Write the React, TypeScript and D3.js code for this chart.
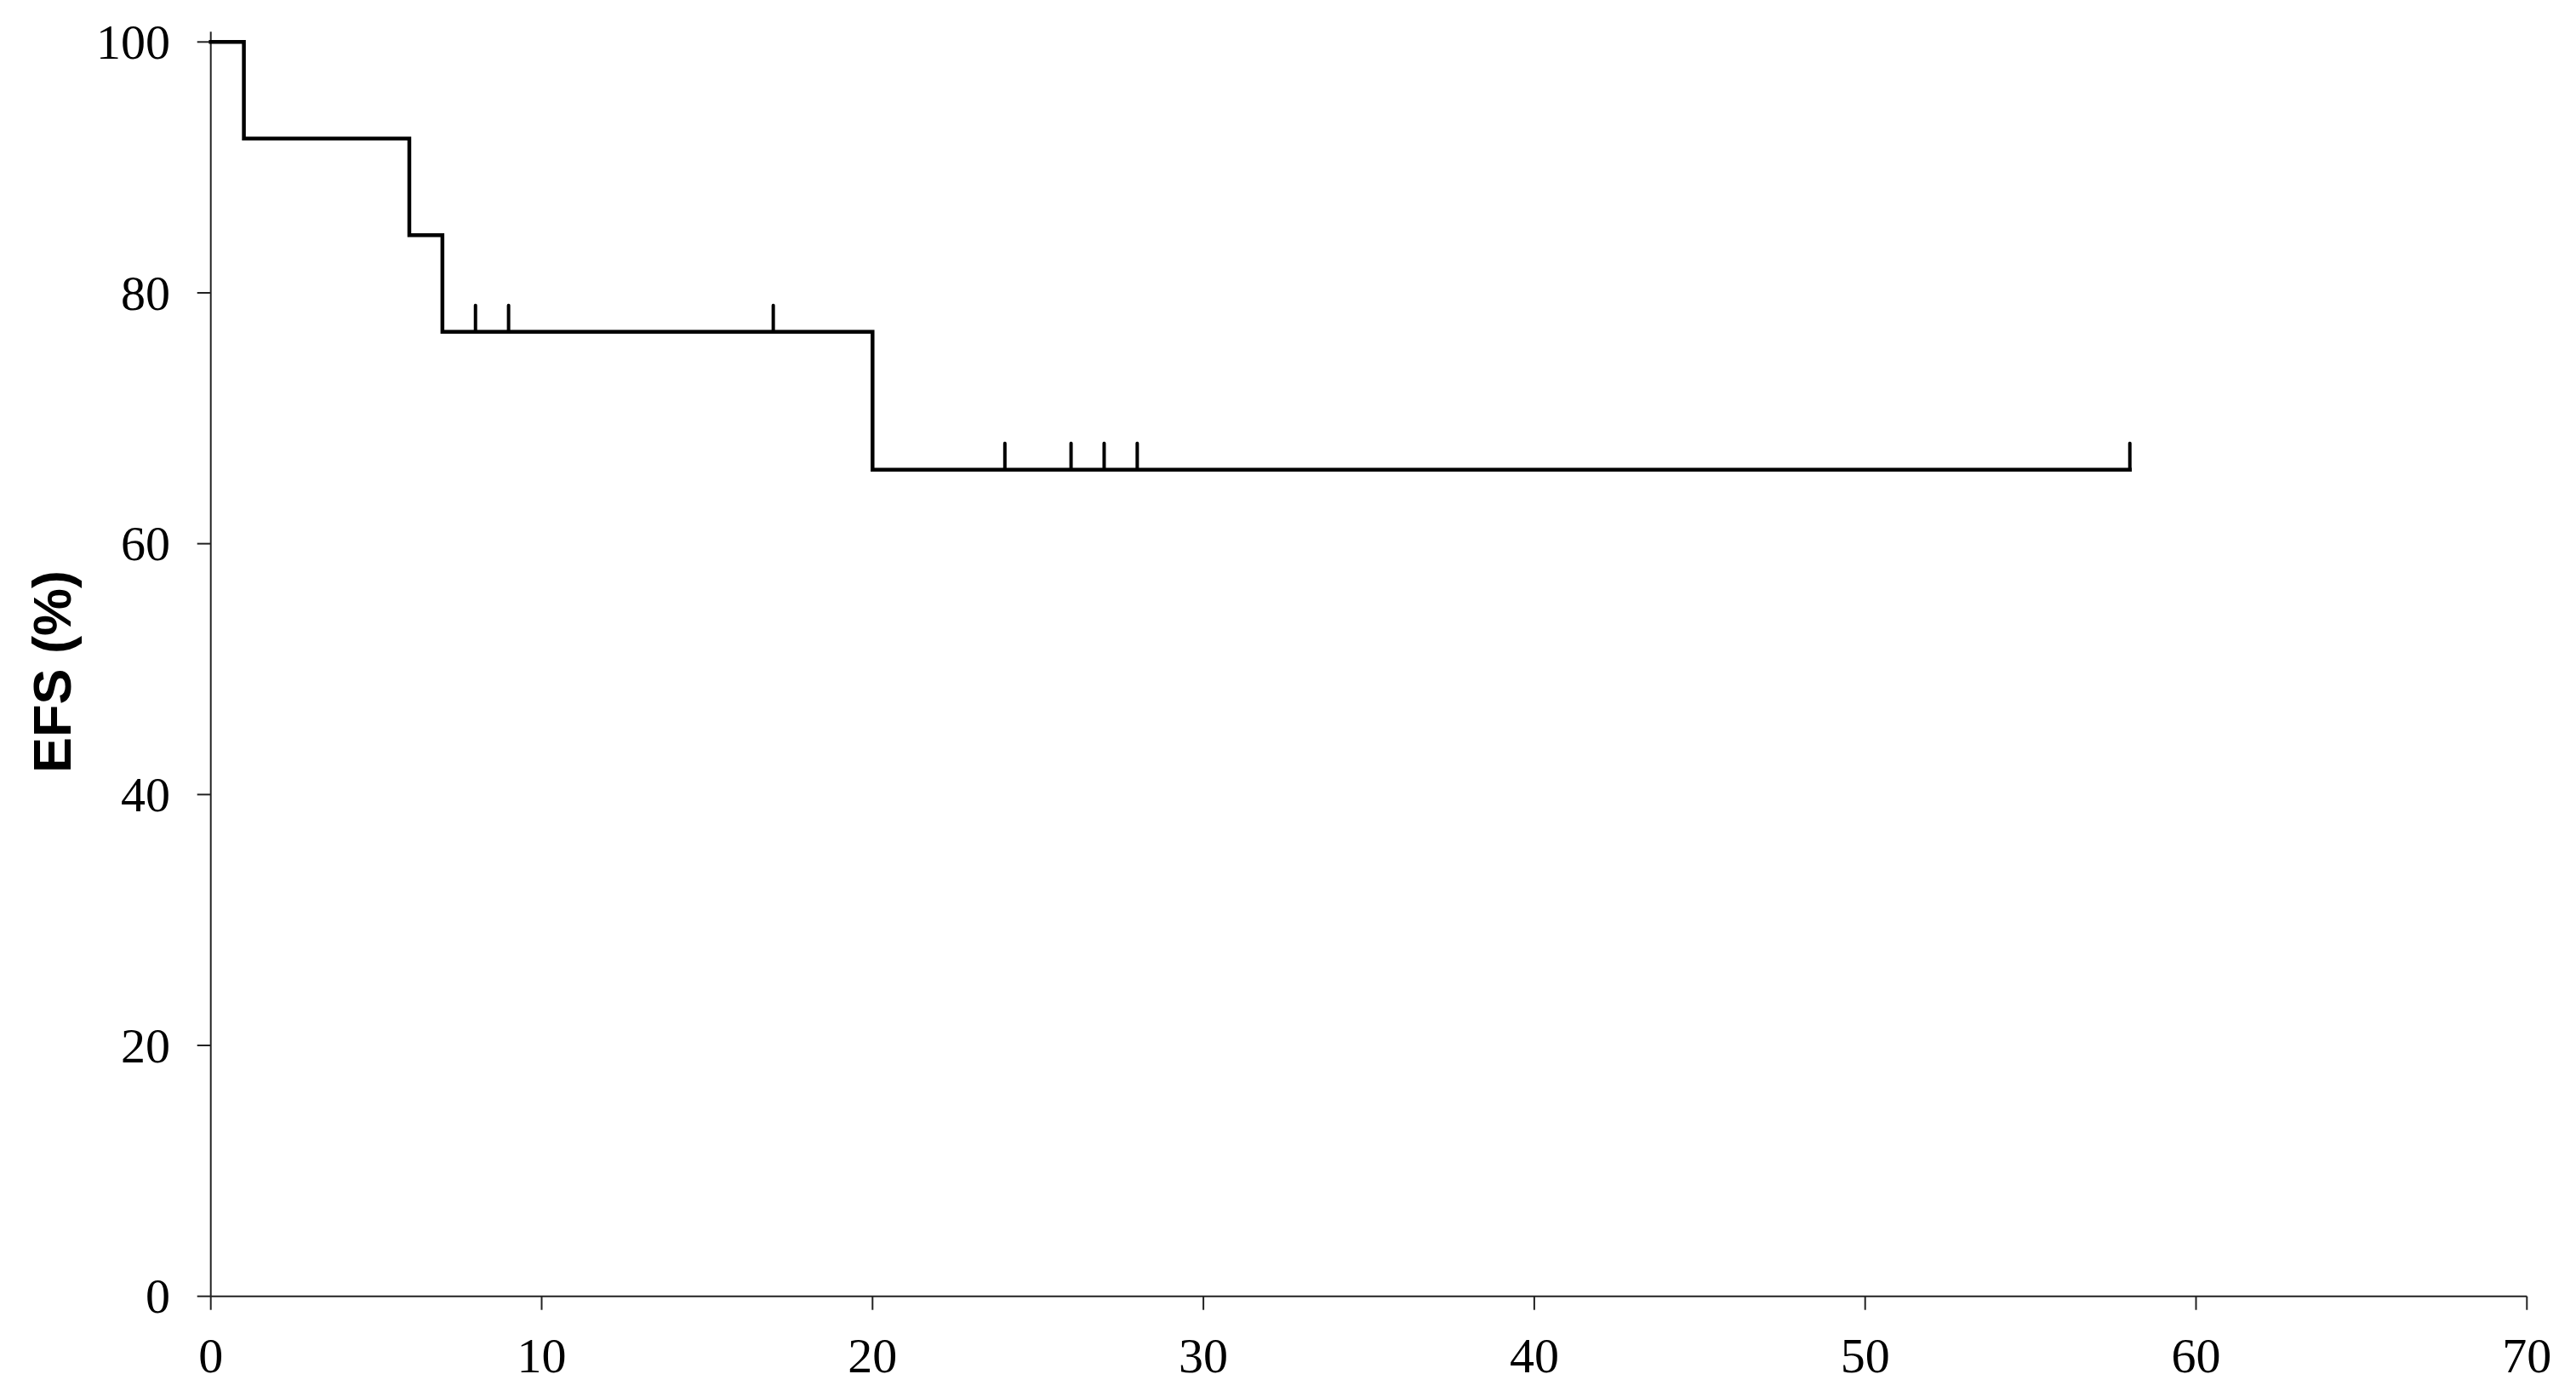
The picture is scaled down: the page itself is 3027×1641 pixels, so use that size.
import React from "react";
import * as d3 from "d3";

const eventTimes = [0, 1, 6, 7, 20];
const survivalAfter = [100, 92.3, 84.6, 76.9, 65.9];
const lastFollowUp = 58;
const censorTimes = [8, 9, 17, 24, 26, 27, 28, 58];
const xTicks = [0, 10, 20, 30, 40, 50, 60, 70];
const yTicks = [0, 20, 40, 60, 80, 100];
const yLabel = "EFS (%)";

const W = 3027;
const H = 1641;

export default function App() {
  const x = d3.scaleLinear().domain([0, 70]).range([247.7, 2969.3]);
  const y = d3.scaleLinear().domain([0, 100]).range([1522.7, 49.3]);

  const pts: [number, number][] = eventTimes.map((t, i) => [t, survivalAfter[i]]);
  pts.push([lastFollowUp, survivalAfter[survivalAfter.length - 1]]);

  const line = d3
    .line<[number, number]>()
    .x((d) => x(d[0]))
    .y((d) => y(d[1]))
    .curve(d3.curveStepAfter);

  const survAt = (t: number) => {
    let s = survivalAfter[0];
    eventTimes.forEach((et, i) => {
      if (et <= t) s = survivalAfter[i];
    });
    return s;
  };

  const tickLen = 16;
  const axisColor = "#222";

  return (
    <svg
      width={W}
      height={H}
      style={{ position: "absolute", left: 0, top: 0, background: "#fff" }}
    >
      <rect x={0} y={0} width={W} height={H} fill="#fff" />
      {/* Y axis */}
      <line x1={x(0)} x2={x(0)} y1={y(100) - 12} y2={y(0)} stroke={axisColor} strokeWidth={2} />
      {yTicks.map((t) => (
        <g key={"y" + t}>
          <line x1={x(0) - tickLen} x2={x(0)} y1={y(t)} y2={y(t)} stroke={axisColor} strokeWidth={2} />
          <text
            x={200}
            y={y(t) + 19.7}
            textAnchor="end"
            fontFamily="'Liberation Serif', 'Times New Roman', serif"
            fontSize={58}
            fill="#000"
          >
            {t}
          </text>
        </g>
      ))}
      {/* X axis */}
      <line x1={x(0)} x2={x(70)} y1={y(0)} y2={y(0)} stroke={axisColor} strokeWidth={2} />
      {xTicks.map((t) => (
        <g key={"x" + t}>
          <line x1={x(t)} x2={x(t)} y1={y(0)} y2={y(0) + tickLen} stroke={axisColor} strokeWidth={2} />
          <text
            x={x(t)}
            y={1611.7}
            textAnchor="middle"
            fontFamily="'Liberation Serif', 'Times New Roman', serif"
            fontSize={58}
            fill="#000"
          >
            {t}
          </text>
        </g>
      ))}
      {/* Y label */}
      <text
        transform={`translate(83,789) rotate(-90)`}
        textAnchor="middle"
        fontFamily="'Liberation Sans', Arial, sans-serif"
        fontWeight="bold"
        fontSize={63}
        fill="#000"
      >
        {yLabel}
      </text>
      {/* KM curve */}
      <path d={line(pts) || ""} fill="none" stroke="#000" strokeWidth={4.5} strokeLinejoin="miter" strokeLinecap="square" />
      {censorTimes.map((t, i) => (
        <line
          key={"c" + i}
          x1={x(t)}
          x2={x(t)}
          y1={y(survAt(t))}
          y2={y(survAt(t)) - 31}
          stroke="#000"
          strokeWidth={4}
          strokeLinecap="round"
        />
      ))}
    </svg>
  );
}
